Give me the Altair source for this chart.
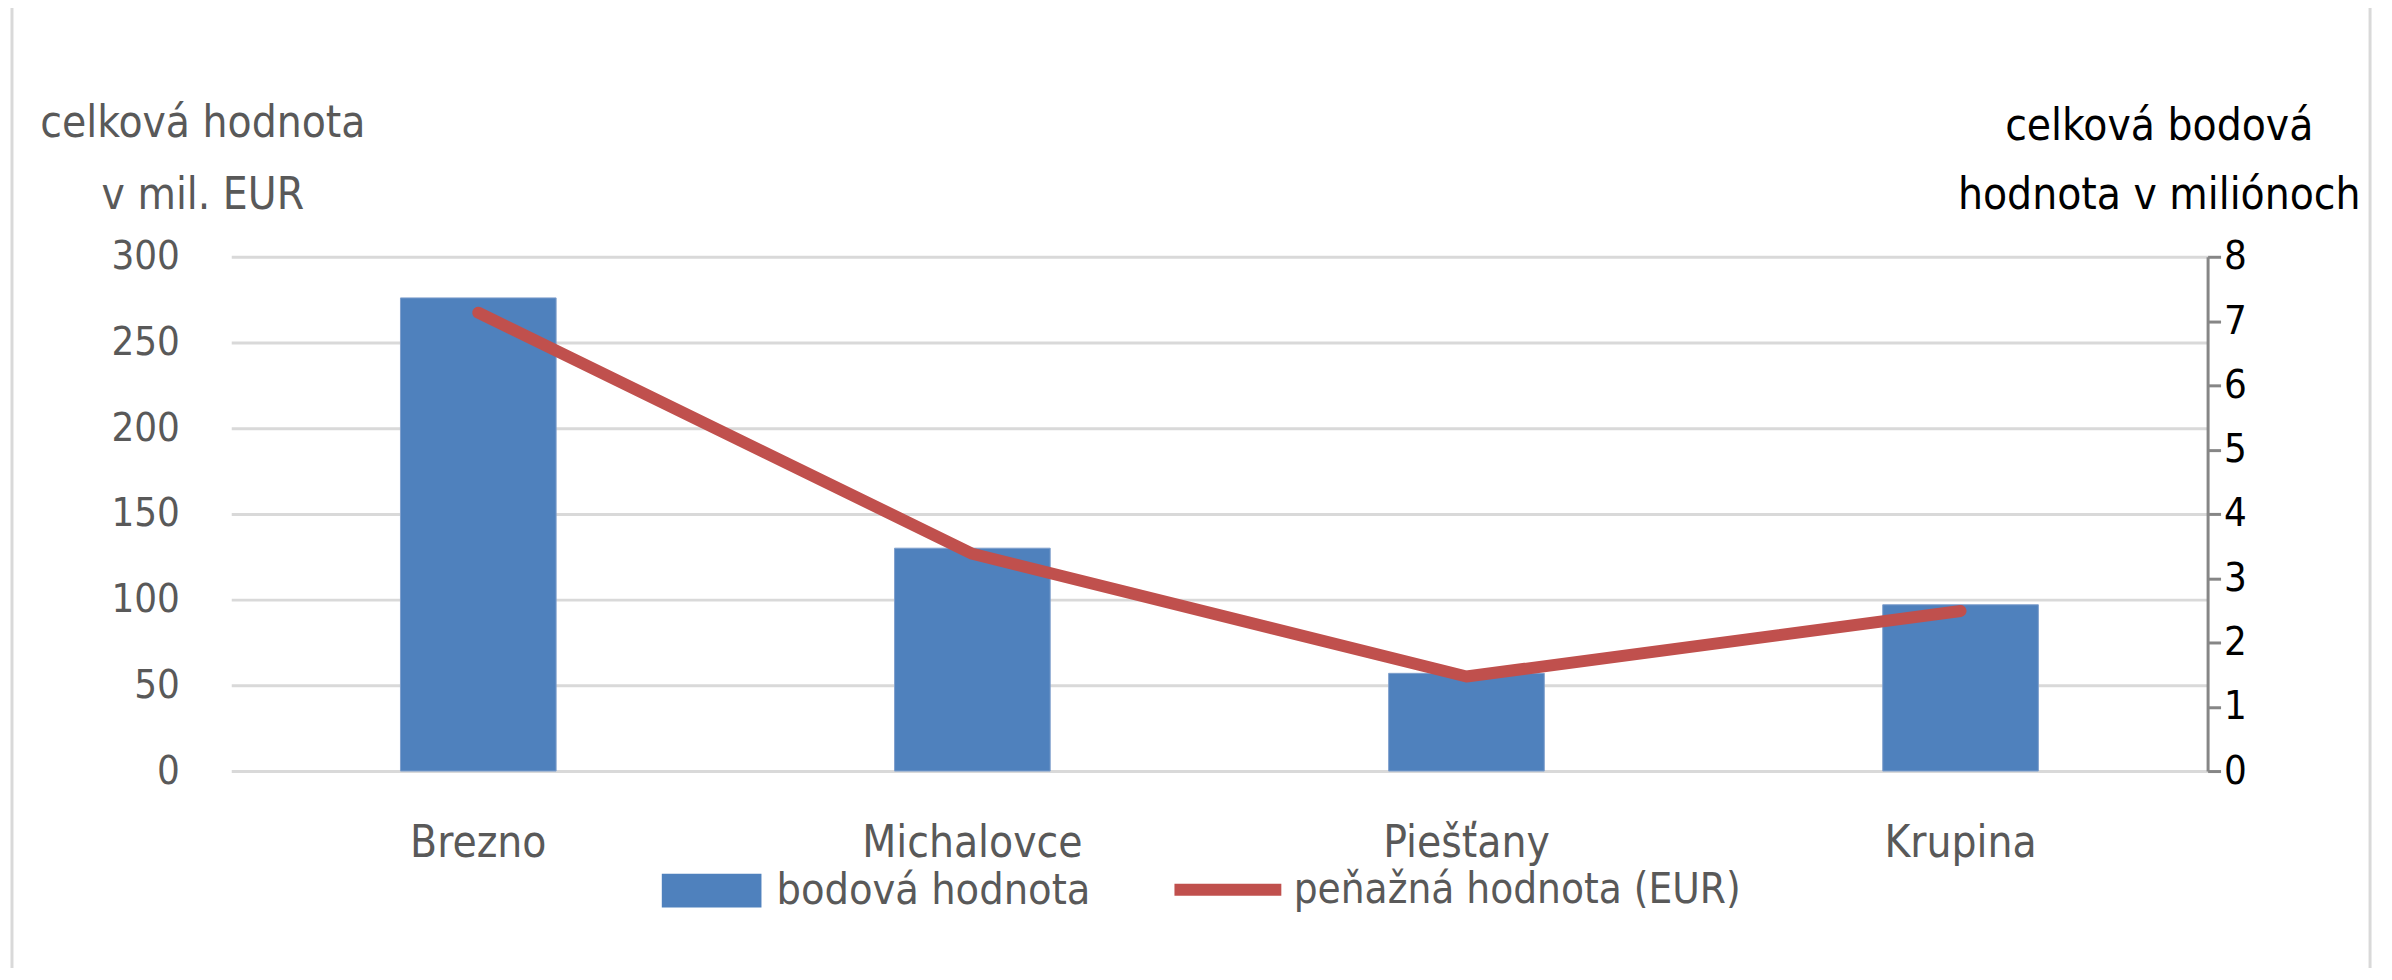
import altair as alt
import pandas as pd

categories = ["Brezno", "Michalovce", "Piešťany", "Krupina"]
bodova = [276, 130, 57, 97]          # bars, left axis (mil. EUR)
penazna = [7.13, 3.38, 1.47, 2.49]   # line, right axis (milióny)
left_ticks = [0, 50, 100, 150, 200, 250, 300]
right_ticks = [0, 1, 2, 3, 4, 5, 6, 7, 8]
bar_series = "bodová hodnota"
line_series = "peňažná hodnota (EUR)"

FONT = "DejaVu Sans Condensed, DejaVu Sans, sans-serif"
GRAY = "#595959"

bars_df = pd.DataFrame({"kat": categories, "hodnota": bodova, "serie": bar_series})
line_df = pd.DataFrame({"kat": categories, "hodnota": penazna, "serie": line_series})
frame_df = pd.DataFrame({"a": [0]})

xenc = alt.X(
    "kat:N",
    sort=categories,
    scale=alt.Scale(paddingInner=0.685, paddingOuter=0.3425),
    axis=alt.Axis(
        title=None, labelAngle=0, domain=False, ticks=False,
        labelFont=FONT, labelFontSize=44, labelColor=GRAY, labelLimit=0,
        labelPadding=51, labelBaseline="top",
    ),
)

bars = alt.Chart(bars_df).mark_bar(stroke="#7E9FCC", strokeWidth=1).encode(
    x=xenc,
    y=alt.Y(
        "hodnota:Q",
        scale=alt.Scale(domain=[0, 300], nice=False),
        axis=alt.Axis(
            values=left_ticks, grid=True, gridColor="#D9D9D9", gridWidth=3,
            domain=False, ticks=False,
            labelFont=FONT, labelFontSize=40, labelColor=GRAY, labelPadding=52,
            title=["celková  hodnota", "v mil. EUR"], titleAngle=0,
            titleAlign="center", titleBaseline="alphabetic",
            titleX=-29, titleY=-121, titleLineHeight=73,
            titleFont=FONT, titleFontSize=44, titleFontWeight="normal", titleColor=GRAY,
        ),
    ),
    fill=alt.Fill(
        "serie:N",
        scale=alt.Scale(domain=[bar_series], range=["#4F81BD"]),
        legend=alt.Legend(
            title=None, orient="none", legendX=432, legendY=586,
            symbolType="M-1,-0.34H1V0.34H-1Z", symbolSize=10000,
            symbolStrokeWidth=0, labelOffset=15, labelLimit=0,
            labelFont=FONT, labelFontSize=43, labelColor=GRAY, padding=0,
        ),
    ),
)

line = alt.Chart(line_df).mark_line(
    strokeWidth=12, strokeCap="round", strokeJoin="round"
).encode(
    x=alt.X("kat:N", sort=categories),
    y=alt.Y(
        "hodnota:Q",
        scale=alt.Scale(domain=[0, 8], nice=False),
        axis=alt.Axis(
            orient="right", values=right_ticks, grid=False,
            domain=True, domainColor="#868686", domainWidth=3,
            ticks=True, tickColor="#868686", tickWidth=3, tickSize=13,
            labelFont=FONT, labelFontSize=40, labelColor="#000000", labelPadding=3,
            title=["celková bodová", "hodnota v miliónoch"], titleAngle=0,
            titleAlign="center", titleBaseline="alphabetic",
            titleX=-49, titleY=-118, titleLineHeight=70,
            titleFont=FONT, titleFontSize=44, titleFontWeight="normal", titleColor="#000000",
        ),
    ),
    stroke=alt.Stroke(
        "serie:N",
        scale=alt.Scale(domain=[line_series], range=["#C0504D"]),
        legend=alt.Legend(
            title=None, orient="none", legendX=940, legendY=575,
            symbolType="stroke", symbolSize=11500, symbolStrokeWidth=12,
            labelOffset=6, labelLimit=0,
            labelFont=FONT, labelFontSize=42, labelColor=GRAY, padding=0,
        ),
    ),
)

frame_style = dict(color="#D9D9D9", strokeWidth=3)
frame_left = alt.Chart(frame_df).mark_rule(**frame_style).encode(
    x=alt.value(-220), y=alt.value(-251), y2=alt.value(760)
)
frame_right = alt.Chart(frame_df).mark_rule(**frame_style).encode(
    x=alt.value(2146), y=alt.value(-251), y2=alt.value(760)
)
frame_top = alt.Chart(frame_df).mark_rule(**frame_style).encode(
    x=alt.value(-221), x2=alt.value(2147), y=alt.value(-251)
)

chart = alt.layer(frame_left, frame_right, frame_top, bars, line).resolve_scale(
    y="independent", fill="independent", stroke="independent"
).properties(
    width=1983, height=516,
    autosize=alt.AutoSizeParams(type="none"),
    padding={"left": 224, "top": 248, "right": 177, "bottom": 196},
    background="white",
).configure_view(stroke=None)

chart.save("out.html", embed_options={"renderer": "svg", "actions": False})
